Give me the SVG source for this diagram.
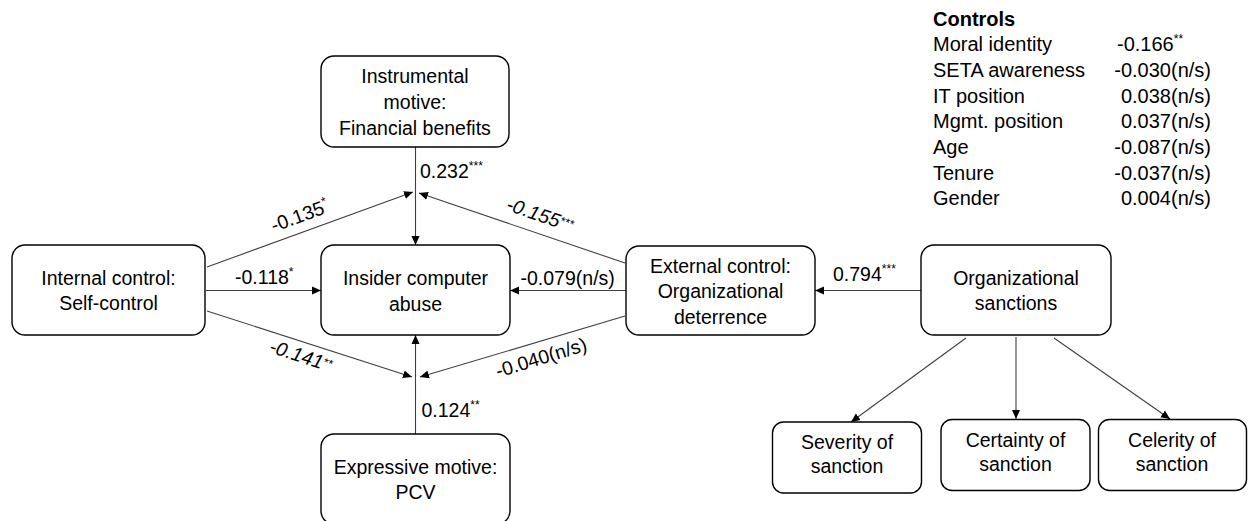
<svg xmlns="http://www.w3.org/2000/svg" width="1248" height="521" viewBox="0 0 1248 521">
<style>
text{font-family:"Liberation Sans",Arial,sans-serif;font-size:19.5px;fill:#000}
.box{fill:#fff;stroke:#000;stroke-width:1.4}
.c{text-anchor:middle}
.e{text-anchor:end}
.sup{font-size:12px}
.it{font-style:italic}
.ln{stroke:#404040;stroke-width:1.1;fill:none;marker-end:url(#ah)}
.b{font-weight:bold}
.ctl{font-size:20px}
</style>
<defs>
<marker id="ah" markerUnits="userSpaceOnUse" markerWidth="10" markerHeight="10" viewBox="0 0 10 10" refX="9" refY="5" orient="auto">
<path d="M0,1 L9,5 L0,9 Z" fill="#000"/>
</marker>
</defs>
<rect width="1248" height="521" fill="#fff"/>
<g id="connectors">
<line class="ln" x1="415.5" y1="147" x2="415.5" y2="245"/>
<line class="ln" x1="415.5" y1="434" x2="415.5" y2="335"/>
<line class="ln" x1="207" y1="267" x2="413" y2="192"/>
<line class="ln" x1="625" y1="263" x2="419" y2="193"/>
<line class="ln" x1="207" y1="311" x2="412" y2="377"/>
<line class="ln" x1="625" y1="316" x2="420" y2="377"/>
<line class="ln" x1="206" y1="290.5" x2="321" y2="290.5"/>
<line class="ln" x1="626" y1="290.5" x2="510" y2="290.5"/>
<line class="ln" x1="921" y1="290.5" x2="815" y2="290.5"/>
<line class="ln" x1="966" y1="338" x2="851" y2="422"/>
<line class="ln" x1="1016" y1="337" x2="1016" y2="419"/>
<line class="ln" x1="1054" y1="338" x2="1170" y2="419"/>
</g>
<g id="edge-labels">
<text x="420" y="178">0.232<tspan class="sup" dy="-8">***</tspan></text>
<text x="421.5" y="416.5">0.124<tspan class="sup" dy="-8">**</tspan></text>
<text x="235" y="283.5">-0.118<tspan class="sup" dy="-8">*</tspan></text>
<text x="520.5" y="285">-0.079(n/s)</text>
<text x="833" y="281">0.794<tspan class="sup" dy="-8">***</tspan></text>
<text class="c" transform="translate(302,222) rotate(-20)">-0.135<tspan class="sup" dy="-8">*</tspan></text>
<text class="c it" transform="translate(538,221) rotate(19)">-0.155<tspan class="sup" dy="-4">***</tspan></text>
<text class="c it" transform="translate(299,362) rotate(18)">-0.141<tspan class="sup" dy="-4">**</tspan></text>
<text class="c" transform="translate(543,364) rotate(-17)">-0.040(n/s)</text>
</g>
<g id="instrumental">
<rect class="box" x="321" y="56" width="188" height="91" rx="13"/>
<text class="c" x="415" y="83">Instrumental</text>
<text class="c" x="415" y="109">motive:</text>
<text class="c" x="415" y="135">Financial benefits</text>
</g>
<g id="internal">
<rect class="box" x="12" y="245" width="193" height="90" rx="13"/>
<text class="c" x="108.5" y="284.5">Internal control:</text>
<text class="c" x="108.5" y="310">Self-control</text>
</g>
<g id="insider">
<rect class="box" x="321" y="245" width="189" height="90" rx="13"/>
<text class="c" x="415.5" y="285">Insider computer</text>
<text class="c" x="415.5" y="311">abuse</text>
</g>
<g id="expressive">
<rect class="box" x="321" y="434" width="189" height="90" rx="13"/>
<text class="c" x="415.5" y="473.5">Expressive motive:</text>
<text class="c" x="415.5" y="498.5">PCV</text>
</g>
<g id="external">
<rect class="box" x="626" y="246" width="189" height="89" rx="13"/>
<text class="c" x="720.5" y="272.5">External control:</text>
<text class="c" x="720.5" y="298">Organizational</text>
<text class="c" x="720.5" y="323.5">deterrence</text>
</g>
<g id="org-sanctions">
<rect class="box" x="921" y="245" width="190" height="90" rx="13"/>
<text class="c" x="1016" y="285">Organizational</text>
<text class="c" x="1016" y="310">sanctions</text>
</g>
<g id="severity">
<rect class="box" x="772.5" y="422" width="149" height="71" rx="11"/>
<text class="c" x="847" y="448.5">Severity of</text>
<text class="c" x="847" y="473">sanction</text>
</g>
<g id="certainty">
<rect class="box" x="941" y="419.5" width="149" height="71" rx="11"/>
<text class="c" x="1015.5" y="446.5">Certainty of</text>
<text class="c" x="1015.5" y="471">sanction</text>
</g>
<g id="celerity">
<rect class="box" x="1098.5" y="419.5" width="148" height="71" rx="11"/>
<text class="c" x="1172" y="446.5">Celerity of</text>
<text class="c" x="1172" y="471">sanction</text>
</g>
<g id="controls">
<text class="b ctl" x="933" y="25.5">Controls</text>
<text class="ctl" x="933" y="51">Moral identity</text>
<text class="ctl" x="933" y="77">SETA awareness</text>
<text class="ctl" x="933" y="102.5">IT position</text>
<text class="ctl" x="933" y="128">Mgmt. position</text>
<text class="ctl" x="933" y="154">Age</text>
<text class="ctl" x="933" y="179.5">Tenure</text>
<text class="ctl" x="933" y="205">Gender</text>
<text class="ctl" x="1117" y="51">-0.166<tspan class="sup" dy="-8">**</tspan></text>
<text class="ctl e" x="1211" y="77">-0.030(n/s)</text>
<text class="ctl e" x="1211" y="102.5">0.038(n/s)</text>
<text class="ctl e" x="1211" y="128">0.037(n/s)</text>
<text class="ctl e" x="1211" y="154">-0.087(n/s)</text>
<text class="ctl e" x="1211" y="179.5">-0.037(n/s)</text>
<text class="ctl e" x="1211" y="205">0.004(n/s)</text>
</g>
</svg>
